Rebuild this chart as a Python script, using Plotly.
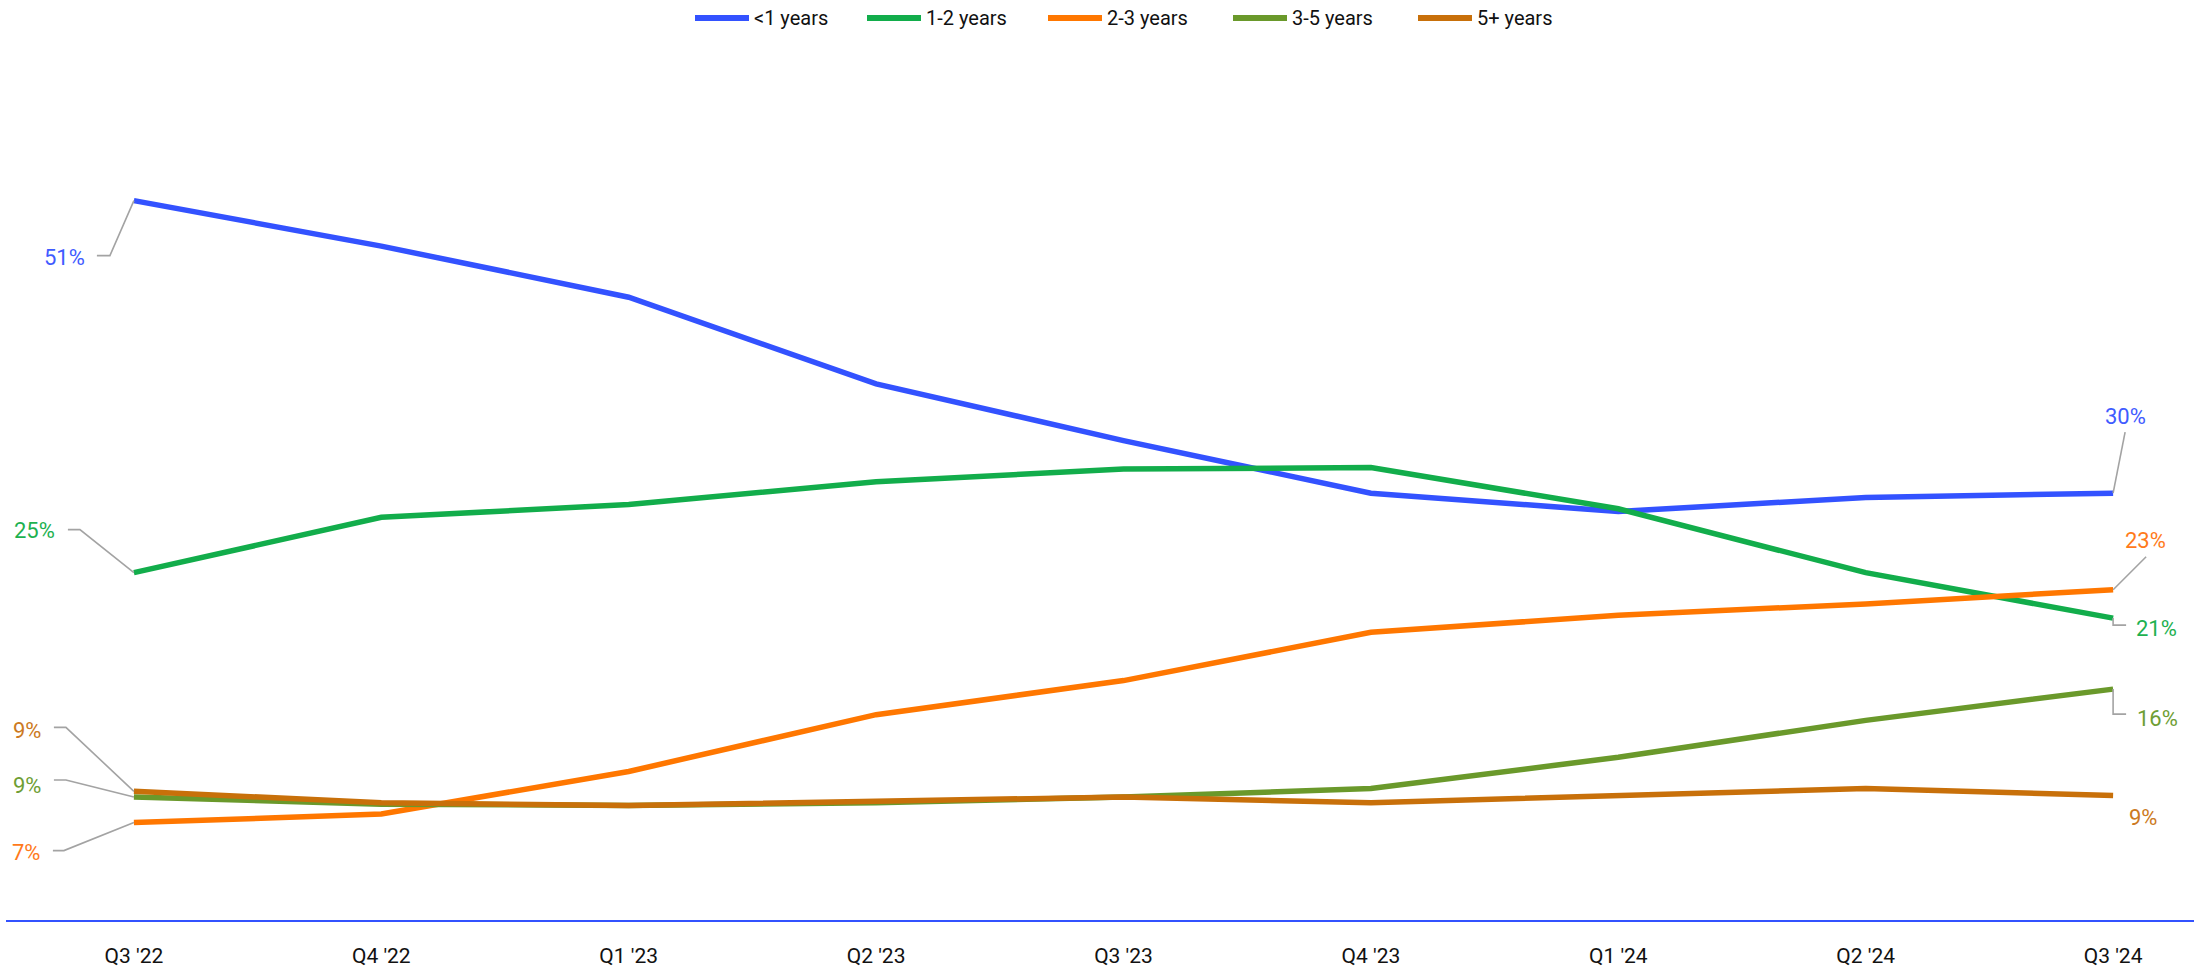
import plotly.graph_objects as go

# Quarterly share of respondents by tenure band (%)
quarters = ["Q3 '22", "Q4 '22", "Q1 '23", "Q2 '23", "Q3 '23", "Q4 '23", "Q1 '24", "Q2 '24", "Q3 '24"]
under_1 = [50.8, 47.6, 44.0, 37.9, 33.9, 30.2, 28.9, 29.9, 30.2]
years_1_2 = [24.6, 28.5, 29.4, 31.0, 31.9, 32.0, 29.1, 24.6, 21.4]
years_2_3 = [7.0, 7.6, 10.6, 14.6, 17.0, 20.4, 21.6, 22.4, 23.4]
years_3_5 = [8.8, 8.3, 8.2, 8.4, 8.8, 9.4, 11.6, 14.2, 16.4]
years_5_plus = [9.2, 8.4, 8.2, 8.5, 8.8, 8.4, 8.9, 9.4, 8.9]

series_names = ["<1 years", "1-2 years", "2-3 years", "3-5 years", "5+ years"]
series_values = [under_1, years_1_2, years_2_3, years_3_5, years_5_plus]
line_colors = ["#3352FF", "#12AD4B", "#FF7700", "#6A992B", "#C8700A"]
label_colors = ["#3F5BFF", "#1DB150", "#FF7A1A", "#6E9E34", "#CC7A22"]

# Figure geometry
W, H = 2194, 968
ML, MR, MT, MB = 6, 0, 141, 48
PLOT_W = W - ML - MR
PLOT_H = H - MT - MB
X_RANGE = [-0.517, 8.327]
Y_RANGE = [0.14, 55]
PX_X = PLOT_W / (X_RANGE[1] - X_RANGE[0])
PX_Y = PLOT_H / (Y_RANGE[1] - Y_RANGE[0])

FONT = "Roboto"
LEADER = "#A3A3A3"

x_idx = list(range(len(quarters)))

fig = go.Figure()
for name, vals, col in zip(series_names, series_values, line_colors):
    fig.add_trace(go.Scatter(
        x=x_idx, y=vals, mode="lines", name=name,
        line=dict(color=col, width=5.5),
        hoverinfo="skip", showlegend=False,
    ))

# End-point labels: (series index, point index, leader path offsets in px (dx, dy-down),
#                    text xanchor, xshift, yshift)
end_labels = [
    (0, 0, [(0, 0), (-24, 55), (-37, 55)], "right", -47, -57),
    (1, 0, [(0, 0), (-54, -43), (-66, -43)], "right", -77, 42),
    (4, 0, [(0, 0), (-68, -64), (-80, -64)], "right", -91, 61),
    (3, 0, [(0, 0), (-68, -17), (-80, -17)], "right", -91, 12),
    (2, 0, [(0, 0), (-70, 28), (-81, 28)], "right", -92, -30),
    (0, 8, [(0, 0), (12, -61)], "center", 12, 77),
    (2, 8, [(0, 0), (33, -33)], "center", 32, 49),
    (1, 8, [(0, 0), (0, 7), (13, 7)], "left", 21, -10),
    (3, 8, [(0, 0), (0, 25), (13, 25)], "left", 22, -29),
    (4, 8, None, "left", 14, -22),
]

shapes = []
annotations = []
for si, pi, path, xanchor, xs, ys in end_labels:
    v = series_values[si][pi]
    if path:
        pts = [(pi + dx / PX_X, v - dy / PX_Y) for dx, dy in path]
        d = "M " + " L ".join(f"{px:.5f},{py:.5f}" for px, py in pts)
        shapes.append(dict(type="path", path=d, xref="x", yref="y",
                           line=dict(color=LEADER, width=1.6)))
    annotations.append(dict(
        x=pi, y=v, xref="x", yref="y", text=f"{v:.0f}%", showarrow=False,
        xanchor=xanchor, yanchor="middle", xshift=xs, yshift=ys,
        font=dict(family=FONT, size=22, color=label_colors[si]),
    ))

# Legend row drawn across the top
def paper_x(px):
    return (px - ML) / PLOT_W

def paper_y(py):
    return (MT + PLOT_H - py) / PLOT_H

legend_line_x = [695, 867, 1048, 1233, 1418]
legend_len = 54
legend_py = 18
for name, col, lx in zip(series_names, line_colors, legend_line_x):
    shapes.append(dict(type="line", xref="paper", yref="paper",
                       x0=paper_x(lx), x1=paper_x(lx + legend_len),
                       y0=paper_y(legend_py), y1=paper_y(legend_py),
                       line=dict(color=col, width=6)))
    annotations.append(dict(
        x=paper_x(lx + legend_len + 3), y=paper_y(legend_py), xref="paper", yref="paper",
        text=name, showarrow=False, xanchor="left", yanchor="middle",
        font=dict(family=FONT, size=20, color="#111111"),
    ))

fig.update_layout(
    width=W, height=H,
    margin=dict(l=ML, r=MR, t=MT, b=MB, pad=0),
    paper_bgcolor="white", plot_bgcolor="white",
    shapes=shapes, annotations=annotations,
    showlegend=False,
    xaxis=dict(
        range=X_RANGE, tickmode="array", tickvals=x_idx, ticktext=quarters,
        showgrid=False, zeroline=False, showline=True, linecolor="#3352FF", linewidth=2,
        ticks="", ticklabelstandoff=16,
        tickfont=dict(family=FONT, size=21, color="#111111"),
        fixedrange=True,
    ),
    yaxis=dict(range=Y_RANGE, visible=False, fixedrange=True),
)

fig.write_html("out.html")
